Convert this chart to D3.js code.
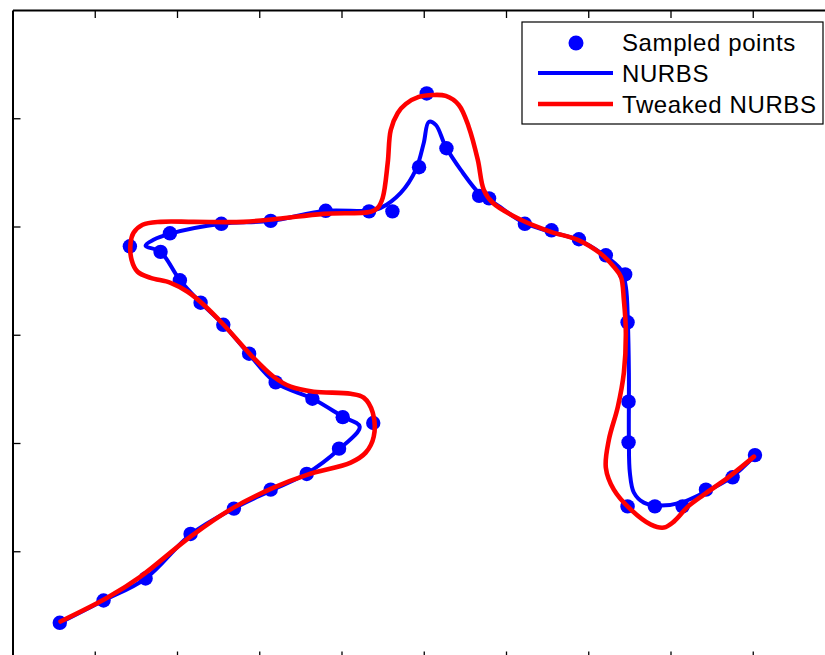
<!DOCTYPE html>
<html>
<head>
<meta charset="utf-8">
<script src="https://cdn.jsdelivr.net/npm/d3@7"></script>
<style>
html,body{margin:0;padding:0;background:#fff;overflow:hidden;}
svg{display:block;}
</style>
</head>
<body>
<svg id="chart" width="825" height="655"></svg>
<script>
// ---------- data (axis units) ----------
const xTicks = [1,2,3,4,5,6,7,8,9,10];
const yTicks = [1,2,3,4,5];

const sampledX = [0.575,1.107,1.618,2.165,2.692,3.139,3.577,3.970,4.386,4.015,3.646,3.200,2.877,2.563,2.287,2.035,1.800,1.427,1.914,2.539,3.139,3.808,4.335,4.619,4.943,5.036,5.276,5.673,5.794,6.229,6.553,6.886,7.214,7.449,7.478,7.490,7.490,7.478,7.810,8.147,8.431,8.755,9.027];
const sampledY = [0.339,0.545,0.748,1.160,1.394,1.569,1.714,1.948,2.185,2.239,2.409,2.560,2.825,3.092,3.296,3.503,3.766,3.817,3.937,4.025,4.052,4.145,4.140,4.140,4.548,5.229,4.723,4.283,4.260,4.025,3.965,3.882,3.734,3.557,3.115,2.382,2.006,1.415,1.415,1.415,1.569,1.683,1.888];

const nurbsX = [0.584,1.107,1.618,2.165,2.688,3.139,3.577,3.966,4.221,4.015,3.650,3.199,2.871,2.567,2.287,2.032,1.800,1.618,1.715,1.910,2.542,3.139,3.808,4.331,4.477,4.720,4.903,5.000,5.061,5.146,5.268,5.450,5.693,5.852,6.217,6.545,6.873,7.153,7.397,7.457,7.482,7.494,7.494,7.506,7.555,7.676,7.883,8.127,8.406,8.735,9.027];
const nurbsY = [0.342,0.545,0.748,1.154,1.394,1.560,1.717,1.939,2.151,2.243,2.409,2.557,2.825,3.092,3.296,3.508,3.766,3.822,3.877,3.932,4.025,4.052,4.145,4.145,4.172,4.311,4.523,4.772,4.966,4.939,4.736,4.523,4.292,4.219,4.034,3.951,3.877,3.757,3.600,3.443,3.111,2.649,2.031,1.726,1.542,1.449,1.422,1.449,1.542,1.680,1.883];

const tweakedX = [0.584,1.156,1.557,2.165,2.688,3.175,3.589,4.112,4.294,4.392,4.380,4.270,4.112,3.662,3.382,3.175,2.895,2.567,2.324,2.129,1.922,1.679,1.521,1.448,1.436,1.472,1.582,1.800,2.202,2.810,3.224,3.783,4.355,4.440,4.501,4.562,4.599,4.684,4.781,4.939,5.109,5.268,5.426,5.547,5.657,5.730,5.839,6.180,6.545,6.873,7.153,7.311,7.397,7.433,7.457,7.433,7.360,7.251,7.214,7.311,7.518,7.762,7.920,8.041,8.212,8.406,8.698,9.015];
const tweakedY = [0.351,0.572,0.766,1.135,1.403,1.588,1.708,1.819,1.911,2.059,2.280,2.419,2.455,2.474,2.520,2.612,2.815,3.092,3.277,3.397,3.480,3.526,3.582,3.692,3.849,3.942,4.016,4.043,4.043,4.043,4.071,4.117,4.136,4.172,4.265,4.588,4.892,5.049,5.132,5.197,5.215,5.206,5.123,4.920,4.616,4.339,4.219,4.062,3.951,3.877,3.748,3.628,3.536,3.323,3.019,2.649,2.336,2.031,1.772,1.569,1.385,1.246,1.219,1.274,1.412,1.523,1.680,1.874];

const legendLabels = ["Sampled points","NURBS","Tweaked NURBS"];

// ---------- drawing ----------
const svg = d3.select("#chart");
const x = d3.scaleLinear().domain([0,10]).range([12.5,835]);
const y = d3.scaleLinear().domain([0,6]).range([659.5,10]);

const toPts = (xs, ys) => xs.map((v,i) => [v, ys[i]]);

// points
svg.append("g").selectAll("circle")
  .data(toPts(sampledX, sampledY))
  .join("circle")
  .attr("cx", d => x(d[0])).attr("cy", d => y(d[1]))
  .attr("r", 7.2).attr("fill", "#0000ff");

const line = d3.line().x(d => x(d[0])).y(d => y(d[1])).curve(d3.curveCatmullRom.alpha(0.5));

svg.append("path").datum(toPts(nurbsX, nurbsY))
  .attr("d", line).attr("fill","none").attr("stroke","#0000ff")
  .attr("stroke-width",4).attr("stroke-linejoin","round").attr("stroke-linecap","round");

svg.append("path").datum(toPts(tweakedX, tweakedY))
  .attr("d", line).attr("fill","none").attr("stroke","#ff0000")
  .attr("stroke-width",4.6).attr("stroke-linejoin","round").attr("stroke-linecap","round");

// axes (ticks inward, no labels)
function styleAxis(g){
  g.select(".domain").attr("stroke","#000").attr("stroke-width",2);
  g.selectAll(".tick line").attr("stroke","#000").attr("stroke-width",1.3);
  g.selectAll(".tick text").remove();
}
svg.append("g").attr("transform",`translate(${x(0)},0)`)
  .call(d3.axisLeft(y).tickValues(yTicks).tickSize(-8).tickSizeOuter(0).tickFormat(""))
  .call(styleAxis);
svg.append("g").attr("transform",`translate(0,${y(6)})`)
  .call(d3.axisTop(x).tickValues(xTicks).tickSize(-8).tickSizeOuter(0).tickFormat(""))
  .call(styleAxis);
svg.append("g").attr("transform",`translate(0,${y(0)})`)
  .call(d3.axisBottom(x).tickValues(xTicks).tickSize(-8).tickSizeOuter(0).tickFormat(""))
  .call(styleAxis);

// legend
const lg = svg.append("g").attr("transform","translate(522,22)");
lg.append("rect").attr("x",0).attr("y",0).attr("width",301).attr("height",102)
  .attr("fill","#fff").attr("stroke","#000").attr("stroke-width",1.2);
lg.append("circle").attr("cx",54).attr("cy",21).attr("r",7.5).attr("fill","#0000ff");
lg.append("line").attr("x1",16).attr("x2",91).attr("y1",51).attr("y2",51)
  .attr("stroke","#0000ff").attr("stroke-width",4);
lg.append("line").attr("x1",16).attr("x2",91).attr("y1",82).attr("y2",82)
  .attr("stroke","#ff0000").attr("stroke-width",4.6);
lg.selectAll("text").data(legendLabels).join("text")
  .attr("x",100).attr("y",(d,i) => 29 + i*31)
  .attr("font-family","'Liberation Sans', Arial, Helvetica, sans-serif")
  .attr("font-size",24).attr("letter-spacing",0.6).attr("fill","#000")
  .text(d => d);
</script>
</body>
</html>
